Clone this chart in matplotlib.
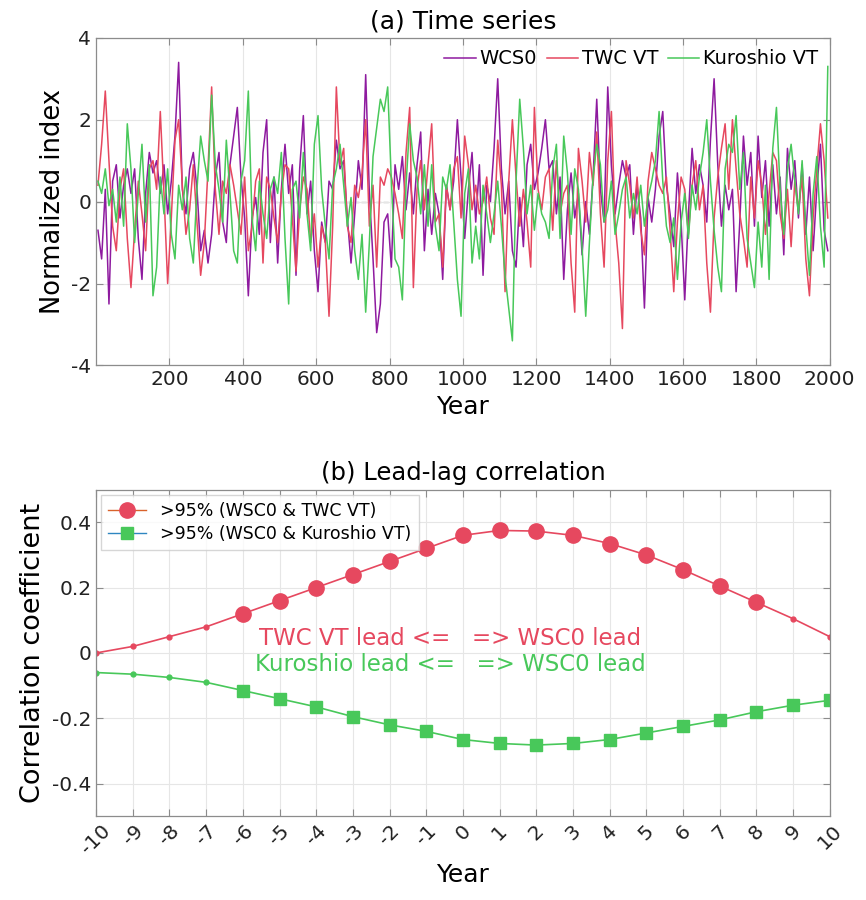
import numpy as np
import matplotlib.pyplot as plt
from matplotlib.lines import Line2D

plt.rcParams['font.family'] = ['DejaVu Sans']
plt.rcParams['axes.unicode_minus'] = False

# ---- (a) time series, one value per decade ----
years = np.arange(5, 2000, 10)

wcs0 = [
    -0.7, -1.4, 0.3, -2.5, 0.5, 0.9, -0.4, 0.4, 0.8, 0.2,
    0.8, -0.9, -1.9, 0.2, 1.2, 0.7, 1.0, 0.2, 0.9, -0.3,
    0.5, 1.6, 3.4, 0.3, -0.3, 0.8, 1.2, 0.3, -1.2, -0.7,
    -1.5, -0.8, 0.6, 1.2, -0.5, -1.0, 0.9, 1.6, 2.3, 0.6,
    -0.4, -2.3, -0.4, 0.1, -0.8, 1.2, 2.0, -1.0, 0.6, -1.5,
    0.3, 1.4, 0.2, 0.9, -1.8, 0.8, 2.1, -0.3, 0.5, -1.2,
    -2.2, -0.5, -1.0, 0.5, 0.3, 1.5, 0.8, 1.0, -0.4, -1.5,
    -0.3, 1.0, 0.3, 3.1, 0.2, -1.4, -3.2, -2.5, -0.5, -0.3,
    -1.6, 0.9, 0.3, 1.1, -0.2, 0.7, -0.3, 0.9, 1.7, -1.2,
    0.3, -0.8, 0.2, -0.3, -1.9, 0.4, -0.2, 0.5, 2.0, 0.6,
    -0.9, 0.3, 1.2, -0.5, 0.9, -1.8, 0.4, 0.0, 1.3, 3.0,
    0.8, -0.3, 0.5, -1.2, -1.6, 0.1, -1.1, 0.9, 1.4, 0.3,
    0.7, 1.3, 2.0, 0.8, 1.0, -0.3, 0.6, -1.9, -0.2, 0.7,
    -0.4, 0.2, -1.3, 0.0, -0.8, 0.6, 2.5, 0.3, -0.5, 2.8,
    0.9, -0.3, 0.4, 1.0, 0.6, 0.9, -0.8, 0.4, -0.4, -2.6,
    0.1, -0.5, 0.3, 1.6, 2.2, 0.4, -0.3, -1.1, 0.7, -0.5,
    -2.4, -0.3, 1.3, 0.2, 0.9, 0.4, -0.5, 1.5, 3.0, 0.9,
    -0.6, 0.4, -0.2, 0.3, -2.2, -0.5, 1.6, 0.4, 1.2, -0.6,
    1.6, 0.1, 1.0, -0.6, 0.9, -0.3, 0.6, -1.3, 1.3, 0.3,
    1.0, -0.4, 0.9, -0.8, 0.6, -1.2, 0.3, 1.4, -0.7, -1.2,
]

twc_vt = [
    0.4, 1.4, 2.7, 1.0, -0.6, -1.2, 0.3, 0.8, -0.9, -2.1,
    -0.7, 0.5, -0.3, -1.2, 0.8, 1.0, 0.3, 2.2, 0.2, -2.0,
    -0.4, 1.5, 2.0, 0.4, -0.8, -0.2, 0.9, -0.5, -1.8, -1.0,
    0.8, 2.8, 0.3, -0.8, 0.5, 0.2, 0.9, 0.4, -0.2, -0.8,
    0.6, -1.2, -0.6, 0.5, 0.8, -1.5, 0.6, 0.3, -0.4, -1.0,
    0.2, 0.9, 0.8, -0.4, -1.7, -0.2, 0.6, 0.3, -1.0, -0.3,
    -1.6, -0.6, -1.0, -2.8, -0.6, 2.8, 0.9, 1.3, -0.6, -1.0,
    0.4, 0.1, 0.7, 2.0, -0.6, 0.4, -1.6, 0.6, 0.4, 0.8,
    0.6, 0.2, -0.3, -0.9, 1.2, 2.3, -2.1, 0.3, 1.0, -0.2,
    0.9, 1.9, -0.5, -0.3, -1.6, 0.4, -0.2, 0.8, 1.1, -0.4,
    1.6, 0.9, -0.2, 0.4, -0.3, 0.0, 0.6, -0.4, -0.8, 1.5,
    0.4, -2.2, 0.5, 2.0, 0.6, -0.6, 0.3, -0.5, -1.6, 2.3,
    0.3, -0.2, 0.6, 0.8, -0.7, 1.0, -0.3, 0.2, 0.4, -1.5,
    -2.7, 1.3, 0.5, -0.5, 1.2, 0.4, 1.7, -0.3, -1.6, 1.0,
    2.2, -0.5, -1.5, -3.1, 1.0, 0.4, -0.4, 0.6, -0.7, -1.3,
    0.5, 1.2, 0.8, 0.4, 0.2, 0.6, -0.7, -2.2, -0.5, 0.6,
    0.3, -0.8, 0.4, 1.0, -0.2, 0.4, -1.5, -2.7, -0.4, 0.6,
    1.3, 1.9, 0.3, 2.0, 0.8, -0.3, -0.9, -1.6, 0.6, -0.4,
    1.0, 0.4, -0.8, 0.2, 1.2, 1.0, -0.3, -0.9, 0.3, -1.1,
    0.5, -0.2, 0.6, -1.4, -2.3, -0.4, 0.8, 1.9, 1.0, -0.4,
]

kuroshio_vt = [
    0.5, 0.2, 0.8, -0.1, 0.3, -0.5, 0.6, -0.6, 1.9, 0.8,
    -1.0, 0.2, 1.4, -0.5, 0.9, -2.3, -1.6, 0.6, -0.3, 0.8,
    -0.8, -1.4, 0.4, -0.2, 0.6, -0.9, -1.5, 0.3, 1.6, 1.0,
    0.5, 2.6, 0.9, 0.3, -0.5, 1.5, 0.2, -1.2, -1.5, 0.5,
    1.0, 2.7, -0.4, -1.2, 0.5, -0.3, -0.9, 0.3, 0.6, 0.2,
    1.2, -0.9, -2.5, 0.3, 0.5, -0.4, 1.2, -0.3, -1.2, 1.4,
    2.1, 0.3, -0.6, -1.4, 0.4, 0.8, 1.4, 0.4, -0.6, 0.1,
    -1.2, -1.9, -0.8, -2.7, -1.0, 1.1, 1.8, 2.5, 2.2, 2.8,
    0.5, -1.4, -1.6, -2.4, 0.4, 1.9, 1.0, 0.6, -0.3, 0.9,
    -0.6, 0.9, -0.6, -1.2, 0.6, 0.3, 0.9, -0.5, -1.9, -2.8,
    0.2, 0.8, -1.5, -0.6, -1.4, 0.4, -0.3, -1.0, -0.3, 0.5,
    -0.6, -1.8, -2.6, -3.4, 0.5, 2.5, 1.3, -0.3, 0.4, -0.7,
    0.2, -0.3, -0.5, -0.9, 0.8, 1.4, -0.9, 1.6, 0.7, -0.8,
    0.8, 0.3, -1.1, -2.8, -1.0, 0.6, 1.4, 0.9, -0.5, -0.2,
    0.5, -0.8, -0.3, 0.3, 0.6, -0.4, 0.2, -0.3, 0.4, -0.6,
    0.1, 0.5, 1.0, 2.2, 0.5, -0.6, -1.0, -0.4, -1.9, -0.5,
    0.2, -0.9, 0.4, -0.2, 0.6, 1.2, 2.0, 0.5, -0.7, -1.6,
    -2.2, 0.8, 1.4, 1.2, 2.1, 0.3, 1.2, -0.9, -1.5, -2.1,
    -0.5, -1.6, 0.4, -1.9, 1.3, 2.3, 0.3, -0.8, 0.8, 1.4,
    0.5, -0.3, 1.0, -0.6, -1.8, 0.2, 1.1, -0.6, -1.6, 3.3,
]

# ---- (b) lead-lag correlation ----
lags = np.arange(-10, 11)
corr_twc = [0.0, 0.02, 0.05, 0.08, 0.12, 0.16, 0.20, 0.24, 0.28, 0.32, 0.36,
            0.375, 0.373, 0.36, 0.335, 0.30, 0.255, 0.205, 0.155, 0.105, 0.05]
corr_kuro = [-0.06, -0.065, -0.075, -0.09, -0.115, -0.14, -0.165, -0.195, -0.22, -0.24, -0.265,
             -0.277, -0.282, -0.277, -0.265, -0.245, -0.225, -0.205, -0.18, -0.16, -0.145]
# lags where the correlation is above 95% significance
sig_twc = (lags >= -6) & (lags <= 8)
sig_kuro = lags >= -6

c_purple = '#8E1A9F'
c_red = '#E6485F'
c_green = '#48C85A'
frame = '#8c8c8c'


def style(ax):
    for s in ax.spines.values():
        s.set_color(frame)
        s.set_linewidth(0.9)
    ax.tick_params(direction='in', length=5, color=frame, labelsize=14.5,
                   top=True, right=True, labelcolor='#222222')
    ax.grid(True, color='#e6e6e6', linewidth=0.8)
    ax.set_axisbelow(True)


fig = plt.figure(figsize=(8.66, 9), dpi=100)

# top panel
ax1 = fig.add_axes([0.111, 0.594, 0.847, 0.364])
ax1.plot(years, wcs0, color=c_purple, lw=1.1, label='WCS0')
ax1.plot(years, twc_vt, color=c_red, lw=1.1, label='TWC VT')
ax1.plot(years, kuroshio_vt, color=c_green, lw=1.1, label='Kuroshio VT')
ax1.axhline(0, color='#b0b0b0', lw=1.0, ls='--', zorder=0)
ax1.set_xlim(0, 2000)
ax1.set_ylim(-4, 4)
ax1.set_xticks(np.arange(200, 2001, 200))
ax1.set_yticks([-4, -2, 0, 2, 4])
style(ax1)
ax1.set_xlabel('Year', fontsize=18)
ax1.set_ylabel('Normalized index', fontsize=18.5)
ax1.set_title('(a) Time series', fontsize=18, pad=7)
ax1.legend(loc='upper right', ncol=3, frameon=False, fontsize=14,
           handlelength=1.6, handletextpad=0.2, columnspacing=0.5,
           borderaxespad=0.2)

# bottom panel
ax2 = fig.add_axes([0.111, 0.093, 0.847, 0.363])
ax2.plot(lags, corr_twc, color=c_red, lw=1.2, marker='o', ms=3.5)
ax2.plot(lags[sig_twc], np.array(corr_twc)[sig_twc], ls='none', marker='o',
         ms=11, color=c_red)
ax2.plot(lags, corr_kuro, color=c_green, lw=1.2, marker='o', ms=3.5)
ax2.plot(lags[sig_kuro], np.array(corr_kuro)[sig_kuro], ls='none', marker='s',
         ms=8, color=c_green)
ax2.set_xlim(-10, 10)
ax2.set_ylim(-0.5, 0.5)
ax2.set_xticks(lags)
ax2.set_xticklabels([str(v) for v in lags], rotation=45)
ax2.set_yticks([-0.4, -0.2, 0, 0.2, 0.4])
ax2.set_yticklabels(['-0.4', '-0.2', '0', '0.2', '0.4'])
style(ax2)
ax2.set_xlabel('Year', fontsize=18)
ax2.set_ylabel('Correlation coefficient', fontsize=19.5)
ax2.set_title('(b) Lead-lag correlation', fontsize=17.5, pad=7)

ax2.text(-0.35, 0.045, 'TWC VT lead <=   => WSC0 lead', color=c_red, fontsize=16.5,
         ha='center', va='center')
ax2.text(-0.35, -0.035, 'Kuroshio lead <=   => WSC0 lead', color=c_green, fontsize=16.5,
         ha='center', va='center')

handles = [
    Line2D([], [], color='#D9622B', lw=1, marker='o', ms=11,
           markerfacecolor=c_red, markeredgecolor=c_red),
    Line2D([], [], color='#2E86C1', lw=1, marker='s', ms=8,
           markerfacecolor=c_green, markeredgecolor=c_green),
]
ax2.legend(handles, ['>95% (WSC0 & TWC VT)', '>95% (WSC0 & Kuroshio VT)'],
           loc='upper left', fontsize=12.5, frameon=True, fancybox=False,
           edgecolor='#cccccc', handlelength=2.2, borderaxespad=0.3,
           labelspacing=0.3)

plt.savefig('out.png', dpi=100)
